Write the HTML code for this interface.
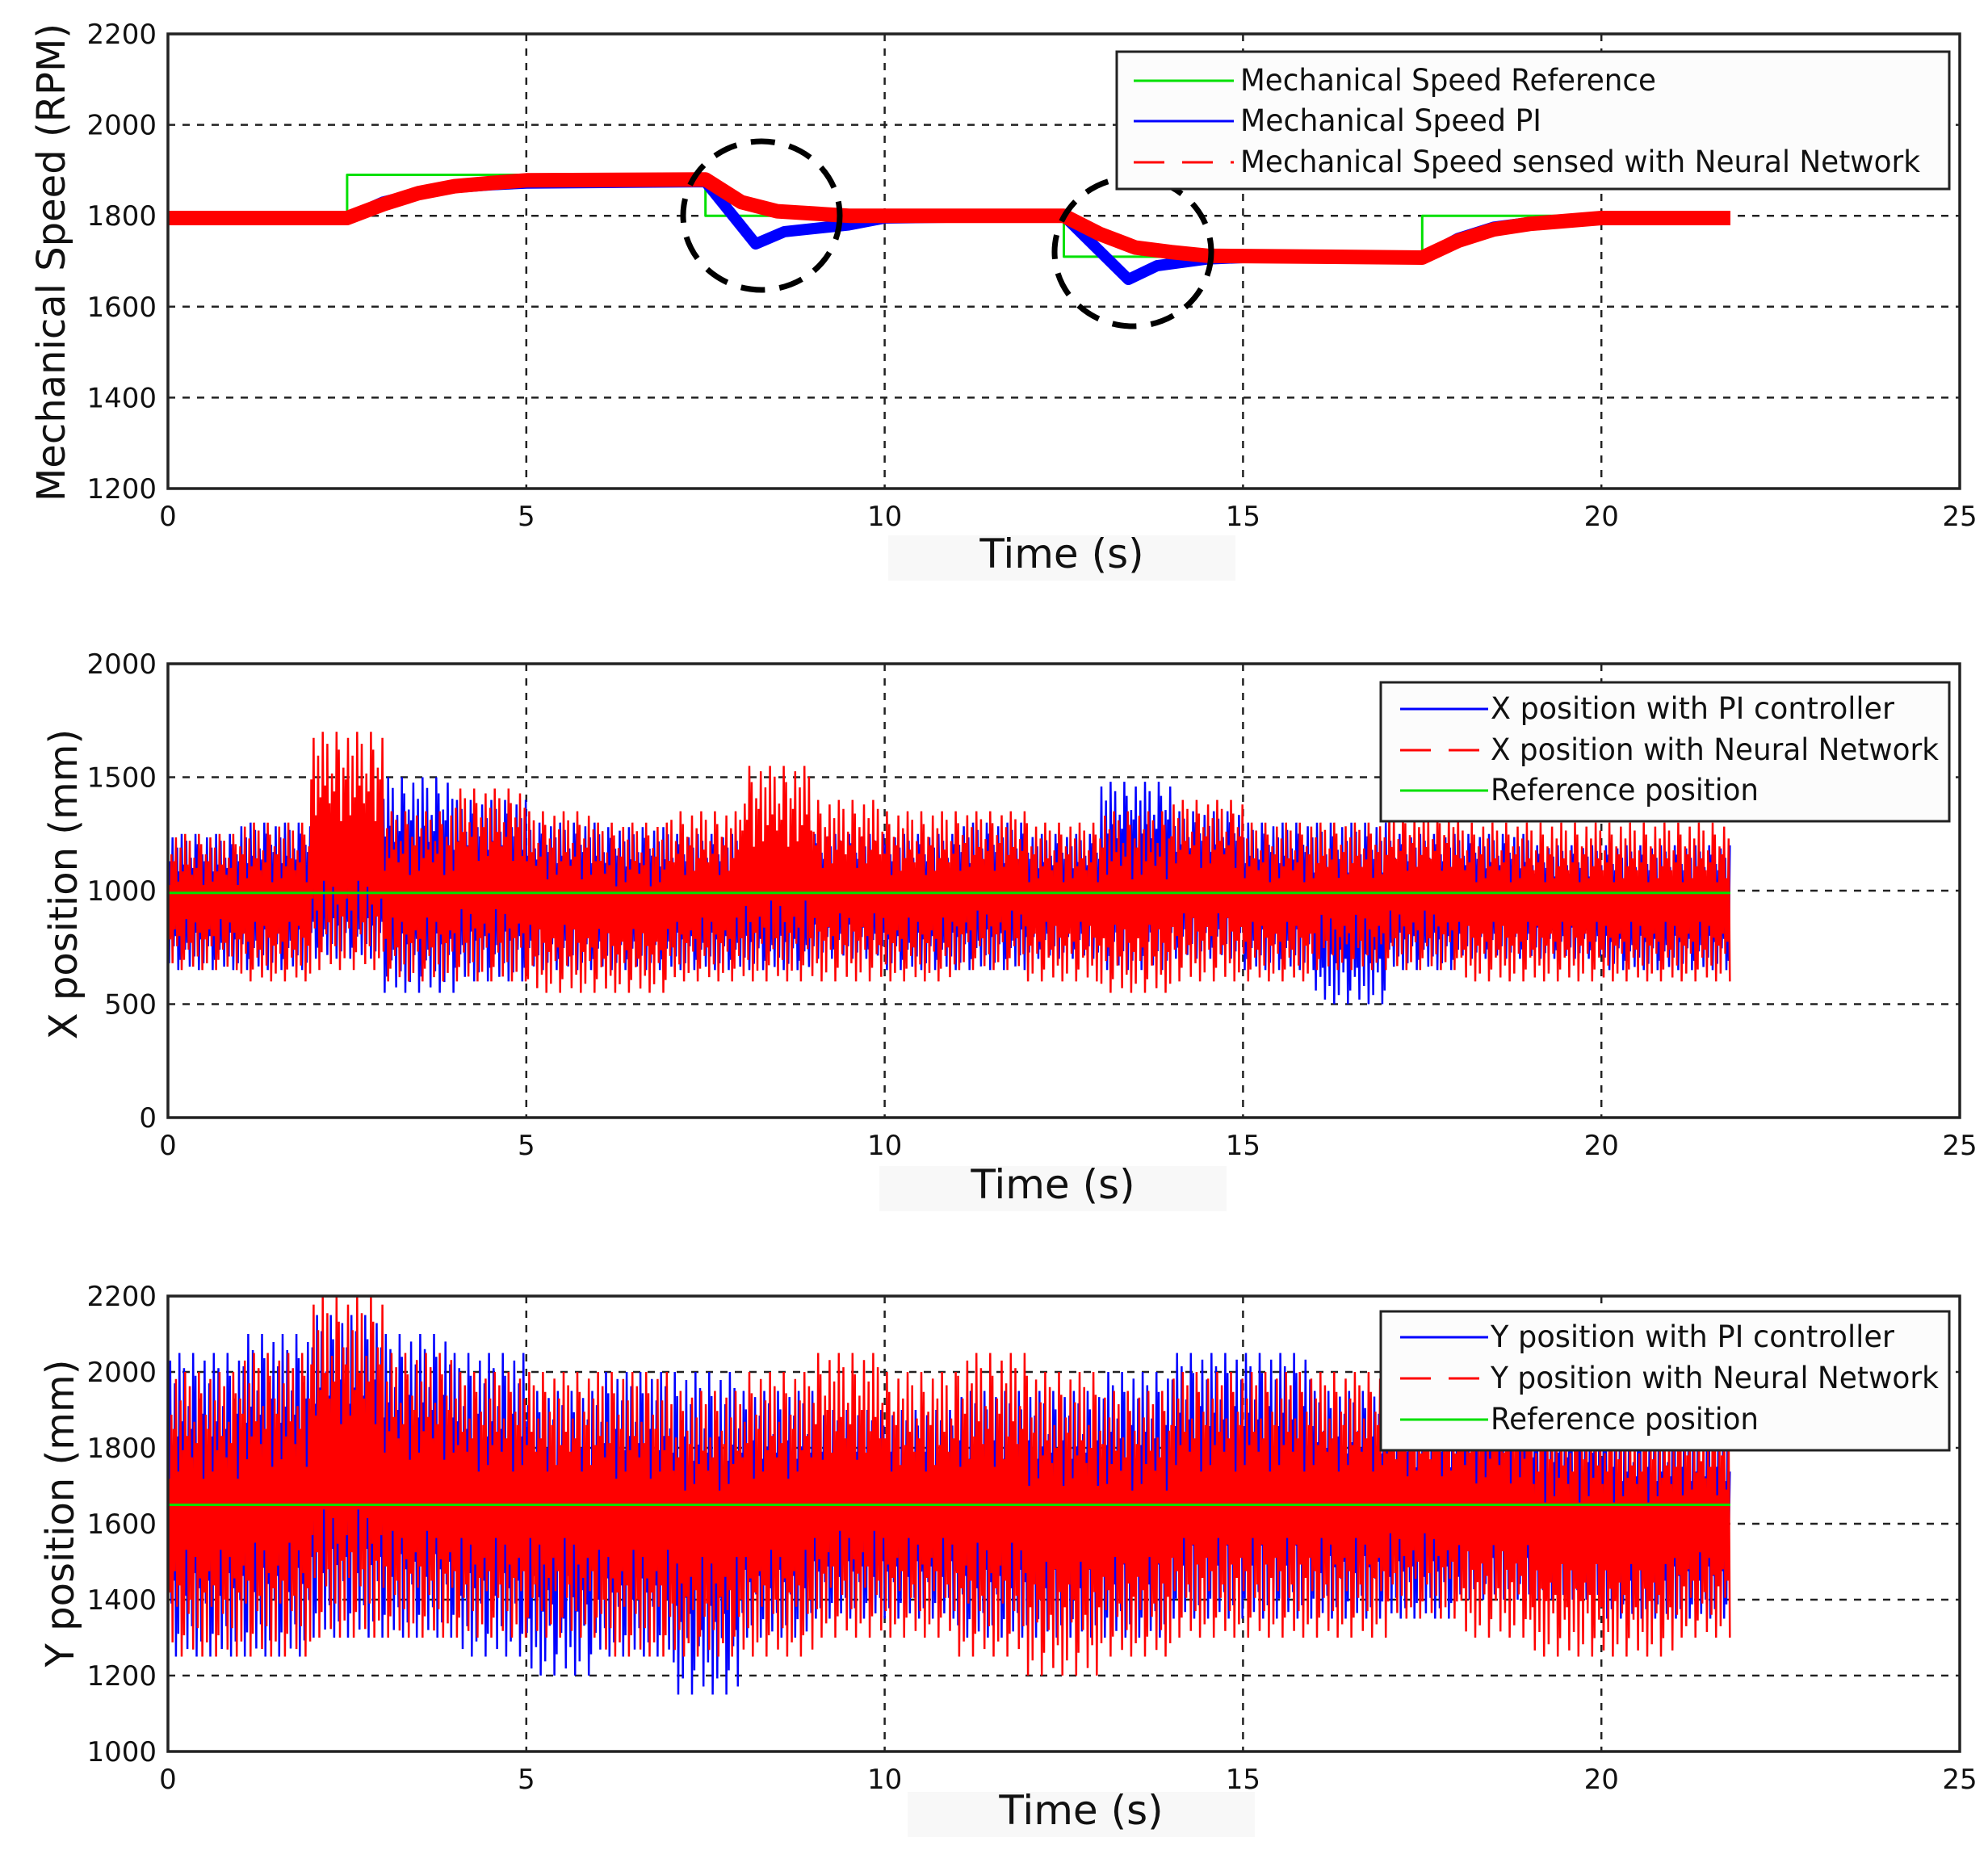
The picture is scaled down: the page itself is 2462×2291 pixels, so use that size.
<!DOCTYPE html>
<html><head><meta charset="utf-8"><style>
html,body{margin:0;padding:0;background:#fff;}
svg{display:block;}
text{font-family:"DejaVu Sans","Liberation Sans",sans-serif;fill:#111;}
.leg{font-family:"DejaVu Sans","Liberation Sans",sans-serif;font-size:37px;}
</style></head><body>
<svg id="fig" width="2462" height="2291" viewBox="0 0 2462 2291" xmlns="http://www.w3.org/2000/svg"></svg>
<script>
// ---------- Data ----------
const xTicks = [0,5,10,15,20,25];
// Plot 1: mechanical speed
const speedTicks = [1200,1400,1600,1800,2000,2200];
const refTimes = [0,2.5,2.5,7.5,7.5,12.5,12.5,17.5,17.5,21.8];
const refSpeed = [1800,1800,1890,1890,1800,1800,1710,1710,1800,1800];
const piTimes = [0,2.5,3,3.5,4,4.5,5,7.5,8.2,8.6,9.5,10,12.5,13.4,13.8,14.5,15,17.5,18,18.5,19,20,21.8];
const piSpeed = [1795,1795,1830,1850,1862,1868,1872,1875,1738,1765,1780,1795,1800,1660,1690,1705,1708,1708,1750,1775,1785,1795,1795];
const nnTimes = [0,2.5,3,3.5,4,4.5,5,7.5,8,8.5,9,9.5,12.5,13,13.5,14,14.5,17.5,18,18.5,19,20,21.8];
const nnSpeed = [1795,1795,1825,1850,1865,1872,1878,1880,1830,1810,1805,1800,1800,1760,1730,1720,1712,1708,1745,1770,1782,1795,1795];
// Plot 2: X position, per-second envelopes (0..21 s)
const xPosTicks = [0,500,1000,1500,2000];
const xRef = 990;
const xPiHi = [1250,1300,1350,1500,1400,1300,1280,1250,1200,1250,1250,1300,1250,1480,1350,1300,1300,1250,1250,1200,1200,1200];
const xPiLo = [650,650,700,550,600,650,650,650,650,700,650,650,700,650,700,650,500,650,700,700,650,650];
const xNnHi = [1250,1300,1700,1350,1450,1350,1300,1350,1550,1400,1350,1350,1300,1350,1400,1300,1300,1350,1300,1300,1300,1300];
const xNnLo = [650,600,650,600,600,550,550,600,600,600,600,650,600,550,600,600,650,650,600,600,600,600];
// Plot 3: Y position
const yPosTicks = [1000,1200,1400,1600,1800,2000,2200];
const yRef = 1650;
const yPiHi = [2050,2100,2150,2100,2050,1950,2000,2000,1950,1900,1900,1950,1950,2000,2050,2050,1950,1900,1950,1900,1850,1850];
const yPiLo = [1250,1250,1300,1300,1250,1200,1250,1150,1300,1350,1350,1300,1300,1300,1350,1350,1350,1350,1400,1400,1350,1350];
const yNnHi = [2000,2050,2200,2050,2000,2000,2000,1950,2000,2050,2000,2050,2000,1950,2000,2000,2000,1950,1950,1900,1900,1900];
const yNnLo = [1250,1250,1300,1300,1300,1300,1250,1250,1250,1300,1300,1250,1200,1250,1300,1300,1300,1350,1300,1250,1250,1300];
const tEnd = 21.8;

// ---------- Drawing ----------
const NS = "http://www.w3.org/2000/svg";
const svg = document.getElementById('fig');
function mk(tag, attrs, parent){ const e=document.createElementNS(NS,tag); for(const k in attrs) e.setAttribute(k,attrs[k]); (parent||svg).appendChild(e); return e; }
const L=208, R=2427;
const panels = [
 {top:42,bot:605,ymin:1200,ymax:2200,ticks:speedTicks},
 {top:822,bot:1384,ymin:0,ymax:2000,ticks:xPosTicks},
 {top:1605,bot:2169,ymin:1000,ymax:2200,ticks:yPosTicks}
];
panels.forEach(p=>{ p.sx=t=>L+(t/25)*(R-L); p.sy=v=>p.bot-(v-p.ymin)/(p.ymax-p.ymin)*(p.bot-p.top); });

function drawAxes(p, idx){
  const g = mk('g',{});
  
  
  mk('rect',{x:L,y:p.top,width:R-L,height:p.bot-p.top,fill:'#fff'},g);
  xTicks.forEach(t=>{
    if(t>0&&t<25){ const l=mk('line',{x1:p.sx(t),x2:p.sx(t),y1:p.top,y2:p.bot,stroke:'#222','stroke-width':2.5,'stroke-dasharray':'9 9'},g);
        }
    const tx=mk('text',{x:p.sx(t),y:p.bot+46,'font-size':34,'text-anchor':'middle'},g); tx.textContent=t;
     
  });
  p.ticks.forEach(v=>{
    if(v>p.ymin&&v<p.ymax){ const l=mk('line',{x1:L,x2:R,y1:p.sy(v),y2:p.sy(v),stroke:'#222','stroke-width':2.5,'stroke-dasharray':'9 9'},g);
        }
    const tx=mk('text',{x:L-14,y:p.sy(v)+12,'font-size':34,'text-anchor':'end'},g); tx.textContent=v;
     
  });
  return g;
}
function frame(p){ const r=mk('rect',{x:L,y:p.top,width:R-L,height:p.bot-p.top,fill:'none',stroke:'#222','stroke-width':3.5});
    }
function poly(p, ts, vs, color, w, name){
  const pts = ts.map((t,i)=>p.sx(t).toFixed(1)+','+p.sy(vs[i]).toFixed(1)).join(' ');
  const e = mk('polyline',{points:pts,fill:'none',stroke:color,'stroke-width':w,'stroke-linejoin':'round'});
   
  return e;
}
// zigzag between envelope values (visual style only)
const shape=[1,0.45,0.8,0.3,0.95,0.6,0.7,0.25,0.85,1,0.5,0.65,0.4,0.9,0.55];
function noisy(p, hi, lo, color, w, name, phase){
  let pts=[]; const step=0.016; let k=phase;
  for(let t=0;t<=tEnd;t+=step){
    const b=Math.min(Math.floor(t),hi.length-1);
    const mid=(hi[b]+lo[b])/2, half=(hi[b]-lo[b])/2;
    const a=shape[(k*7)%shape.length]*(k%2?1:-1);
    pts.push(p.sx(t).toFixed(1)+','+p.sy(mid+half*a).toFixed(1)); k++;
  }
  const e=mk('polyline',{points:pts.join(' '),fill:'none',stroke:color,'stroke-width':w});
   
}
// Panel 1
const p1=panels[0]; drawAxes(p1,0);
poly(p1, refTimes, refSpeed, '#00e000', 3, 'speed-reference-line');
poly(p1, piTimes, piSpeed, '#0000ff', 14, 'speed-pi-line');
poly(p1, nnTimes, nnSpeed, '#ff0000', 18, 'speed-nn-line');
frame(p1);
[[943,267],[1403,312]].forEach((c,i)=>{ const e=mk('ellipse',{cx:c[0],cy:c[1],rx:97,ry:92,fill:'none',stroke:'#000','stroke-width':7,'stroke-dasharray':'30 18'});
    });
// Panel 2
const p2=panels[1]; drawAxes(p2,1);
noisy(p2, xPiHi, xPiLo, '#0000ff', 2.5, 'x-pi-line', 3);
noisy(p2, xNnHi, xNnLo, '#ff0000', 2.5, 'x-nn-line', 0);
poly(p2,[0,tEnd],[xRef,xRef],'#00e000',3,'x-reference-line');
frame(p2);
// Panel 3
const p3=panels[2]; drawAxes(p3,2);
noisy(p3, yPiHi, yPiLo, '#0000ff', 2.5, 'y-pi-line', 5);
noisy(p3, yNnHi, yNnLo, '#ff0000', 2.5, 'y-nn-line', 0);
poly(p3,[0,tEnd],[yRef,yRef],'#00e000',3,'y-reference-line');
frame(p3);

// Titles
function txt(s,x,y,size,name,rot){ const a={x:x,y:y,'font-size':size,'text-anchor':'middle'}; if(rot) a.transform='rotate(-90 '+x+' '+y+')';
  const e=mk('text',a); e.textContent=s;   return e; }
[[1315,703],[1304,1484],[1339,2259]].forEach((c,i)=>{
  const r=mk('rect',{x:c[0]-215,y:c[1]-40,width:430,height:56,fill:'#f8f8f8'});  
  txt('Time (s)',c[0],c[1],50,'x-axis-title-'+(i+1));
});
txt('Mechanical Speed (RPM)',80,325,48,'y-axis-title-1',true);
txt('X position (mm)',95,1095,48,'y-axis-title-2',true);
txt('Y position (mm)',91,1874,48,'y-axis-title-3',true);

// Legends
function legend(x,y,w,h,entries,lx1,lx2,tx,ys,name,tw){
  const g=mk('g',{});  
  mk('rect',{x:x,y:y,width:w,height:h,fill:'#fcfcfc',stroke:'#222','stroke-width':3},g);
  entries.forEach((e,i)=>{
    const ln=mk('line',{x1:lx1,x2:lx2,y1:ys[i],y2:ys[i],stroke:e[1],'stroke-width':3},g);
    if(e[2]) ln.setAttribute('stroke-dasharray','38 22');
     
    const t=mk('text',{x:tx,y:ys[i]+12,'class':'leg'},g); t.textContent=e[0];
    t.setAttribute('textLength',tw[i]); t.setAttribute('lengthAdjust','spacingAndGlyphs');
     
  });
}
legend(1383,64,1031,170,[['Mechanical Speed Reference','#00e000'],['Mechanical Speed PI','#0000ff'],['Mechanical Speed sensed with Neural Network','#ff0000',true]],1404,1528,1536,[100,150,201],'legend-1',[515,373,842]);
legend(1710,845,704,172,[['X position with PI controller','#0000ff'],['X position with Neural Network','#ff0000',true],['Reference position','#00e000']],1734,1843,1846,[878,929,979],'legend-2',[500,555,332]);
legend(1710,1624,704,172,[['Y position with PI controller','#0000ff'],['Y position with Neural Network','#ff0000',true],['Reference position','#00e000']],1734,1843,1846,[1656,1707,1758],'legend-3',[500,555,332]);
</script>
</body></html>
